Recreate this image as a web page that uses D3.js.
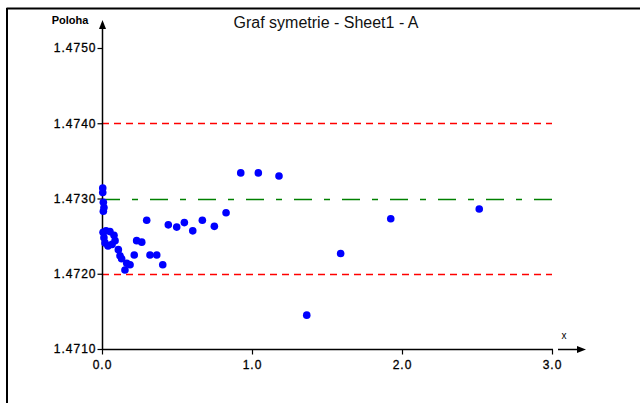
<!DOCTYPE html>
<html><head><meta charset="utf-8">
<script src="https://cdn.jsdelivr.net/npm/d3@7"></script>
<style>body{margin:0;background:#fff}svg{display:block}</style>
</head><body>
<script>
const titleText = "Graf symetrie - Sheet1 - A";
const yAxisTitle = "Poloha";
const xAxisTitle = "x";
const xTicks = [0, 1, 2, 3];
const yTicks = [1.471, 1.472, 1.473, 1.474, 1.475];
const limitLines = [1.4720, 1.4740];
const centerLine = 1.4730;
const xValues = [0.005,0.005,0.009,0.013,0.009,0.007,0.013,0.02,0.04,0.067,0.087,0.08,0.053,0.027,0.109,0.12,0.131,0.165,0.153,0.187,0.215,0.231,0.265,0.298,0.32,0.365,0.405,0.442,0.498,0.549,0.605,0.669,0.749,0.827,0.925,1.042,1.18,1.365,1.591,1.925,2.515];
const yValues = [1.47314,1.47308,1.47295,1.47288,1.47283,1.47255,1.47248,1.47241,1.47237,1.47239,1.47244,1.47251,1.47256,1.47257,1.47232,1.47224,1.47220,1.47214,1.47205,1.47212,1.47225,1.47244,1.47242,1.47271,1.47225,1.47225,1.47212,1.47265,1.47262,1.47268,1.47257,1.47271,1.47263,1.47281,1.47334,1.47334,1.47330,1.47145,1.47227,1.47273,1.47286];

const W = 640, H = 403;
const svg = d3.select("body").append("svg").attr("width", W).attr("height", H);
const x = d3.scaleLinear().domain([0, 3]).range([102, 552]);
const y = d3.scaleLinear().domain([1.471, 1.475]).range([349, 48]);
const font = "'Liberation Sans', Arial, sans-serif";

// frame
svg.append("line").attr("x1", 6.5).attr("x2", W).attr("y1", 8.5).attr("y2", 8.5).attr("stroke", "#000").attr("stroke-width", 2);
svg.append("line").attr("x1", 7).attr("x2", 7).attr("y1", 8).attr("y2", H).attr("stroke", "#000").attr("stroke-width", 2);

// title
svg.append("text").attr("x", 326).attr("y", 28).attr("text-anchor", "middle")
  .attr("font-family", font).attr("font-size", 16).attr("fill", "#111").text(titleText);

// reference lines
limitLines.forEach(v => {
  svg.append("line").attr("x1", x(0)).attr("x2", x(3)).attr("y1", Math.round(y(v)) + 0.5).attr("y2", Math.round(y(v)) + 0.5)
    .attr("stroke", "#ff0000").attr("stroke-width", 1.4).attr("stroke-dasharray", "7,5");
});
svg.append("line").attr("x1", x(0)).attr("x2", x(3)).attr("y1", Math.round(y(centerLine)) + 0.5).attr("y2", Math.round(y(centerLine)) + 0.5)
  .attr("stroke", "#008000").attr("stroke-width", 1.6).attr("stroke-dasharray", "18,12,6,12");

// axes
const yAx = svg.append("g").attr("transform", "translate(102.5,0)")
  .call(d3.axisLeft(y).tickValues(yTicks).tickFormat(d3.format(".4f")).tickSize(5).tickSizeOuter(0));
yAx.select(".domain").remove();
const xAx = svg.append("g").attr("transform", "translate(0,349.5)")
  .call(d3.axisBottom(x).tickValues(xTicks).tickFormat(d3.format(".1f")).tickSize(5).tickSizeOuter(0));
xAx.select(".domain").remove();
[yAx, xAx].forEach(g => {
  g.selectAll("line").attr("stroke", "#000").attr("stroke-width", 1.2);
  g.selectAll("text").attr("font-family", font).attr("font-size", 12).attr("letter-spacing", 1)
    .attr("fill", "#000").attr("stroke", "#000").attr("stroke-width", 0.3);
});
yAx.selectAll("text").attr("x", -6);
xAx.selectAll("text").attr("y", 11);

// axis lines
svg.append("line").attr("x1", 102.5).attr("x2", 102.5).attr("y1", 28).attr("y2", 350).attr("stroke", "#000").attr("stroke-width", 1.5);
svg.append("line").attr("x1", 102).attr("x2", 553).attr("y1", 349.5).attr("y2", 349.5).attr("stroke", "#000").attr("stroke-width", 1.5);
// y arrow
svg.append("path").attr("d", "M102.5,20 L99,29 L106,29 Z").attr("fill", "#000");
// x arrow
svg.append("line").attr("x1", 558).attr("x2", 580).attr("y1", 349.5).attr("y2", 349.5).attr("stroke", "#000").attr("stroke-width", 1.5);
svg.append("path").attr("d", "M586,349.5 L577,346 L577,353 Z").attr("fill", "#000");

svg.append("text").attr("x", 70).attr("y", 24).attr("text-anchor", "middle")
  .attr("font-family", font).attr("font-size", 11).attr("font-weight", "bold").attr("fill", "#000").text(yAxisTitle);
svg.append("text").attr("x", 564).attr("y", 339).attr("text-anchor", "middle")
  .attr("font-family", font).attr("font-size", 10).attr("fill", "#000").text(xAxisTitle);

// points
svg.append("g").selectAll("circle").data(xValues.map((v, i) => [v, yValues[i]])).join("circle")
  .attr("cx", d => x(d[0])).attr("cy", d => y(d[1])).attr("r", 3.8).attr("fill", "#0000ff");
</script>
</body></html>
